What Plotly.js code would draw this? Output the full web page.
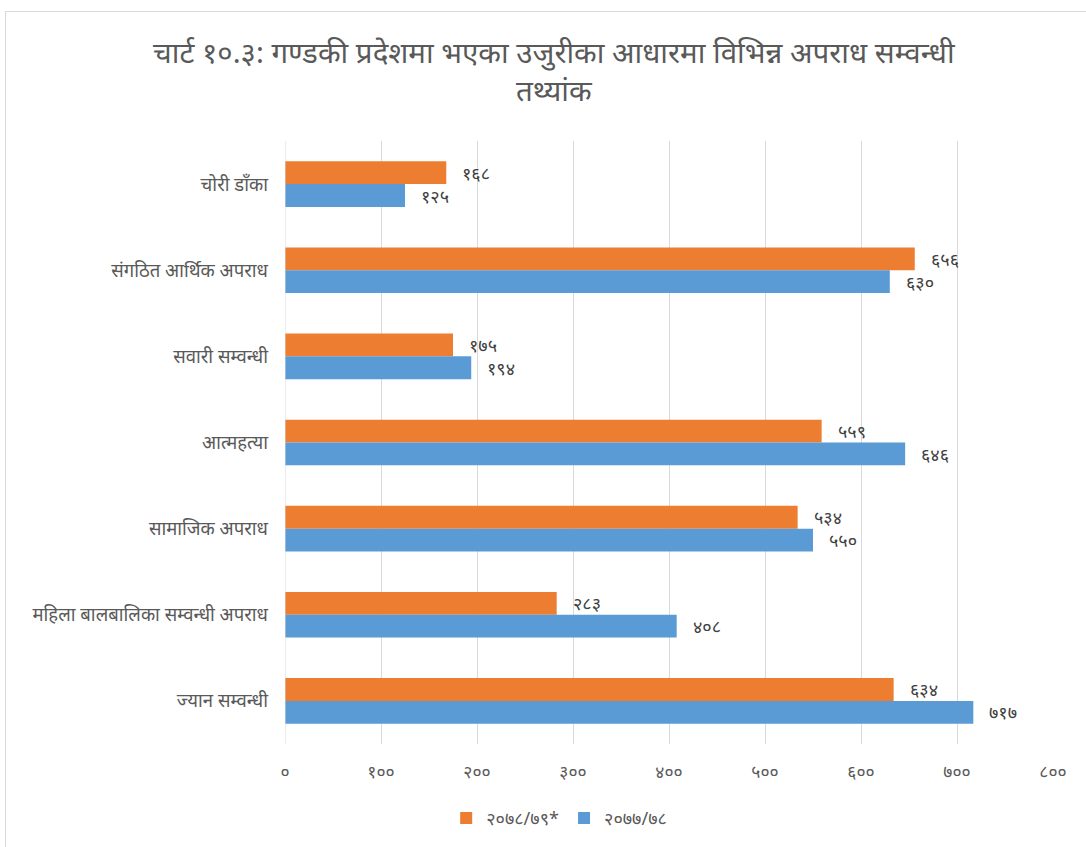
<!DOCTYPE html>
<html>
<head>
<meta charset="utf-8">
<script src="https://cdn.plot.ly/plotly-3.0.1.min.js"></script>
<style>
html,body{margin:0;padding:0;background:#fff;overflow:hidden;}
#frame{position:absolute;left:5px;top:11px;width:1200px;height:1000px;border:1px solid #d9d9d9;box-sizing:border-box;pointer-events:none;z-index:5;}
#chart{position:absolute;left:0;top:0;width:1086px;height:847px;}
</style>
</head>
<body>
<div id="chart"></div>
<div id="frame"></div>
<script>
const categories = ["चोरी डाँका","संगठित आर्थिक अपराध","सवारी सम्वन्धी","आत्महत्या","सामाजिक अपराध","महिला बालबालिका सम्वन्धी अपराध","ज्यान सम्वन्धी"];
const series1Name = "२०७८/७९*";
const series1 = [168, 656, 175, 559, 534, 283, 634];
const series2Name = "२०७७/७८";
const series2 = [125, 630, 194, 646, 550, 408, 717];
const tickVals = [0,100,200,300,400,500,600,700,800];

const devDigits = "०१२३४५६७८९";
function dev(n){ return String(n).replace(/[0-9]/g, d => devDigits[+d]); }
const tickText = tickVals.map(dev);

const font = "'Noto Sans', 'Noto Sans Devanagari', sans-serif";
const orange = "#ED7D31", blue = "#5B9BD5";

const traces = [
  {type:"bar", orientation:"h", name:series1Name, x:series1, y:categories, marker:{color:orange}, hoverinfo:"x+y"},
  {type:"bar", orientation:"h", name:series2Name, x:series2, y:categories, marker:{color:blue}, hoverinfo:"x+y"}
];

const annotations = [];
categories.forEach((c,i)=>{
  annotations.push({x:series1[i], y:c, text:dev(series1[i]), showarrow:false, xanchor:"left", xshift:14, yshift:11.5, font:{family:font,size:18,color:"#404040"}});
  annotations.push({x:series2[i], y:c, text:dev(series2[i]), showarrow:false, xanchor:"left", xshift:14, yshift:-11.5, font:{family:font,size:18,color:"#404040"}});
});

const layout = {
  width:1086, height:847,
  margin:{l:285, r:33, t:141, b:103},
  paper_bgcolor:"#fff", plot_bgcolor:"#fff",
  title:{text:"चार्ट १०.३: गण्डकी प्रदेशमा भएका उजुरीका आधारमा विभिन्न अपराध सम्वन्धी<br>तथ्यांक", x:0.51, xanchor:"center", y:0.926, yanchor:"top", font:{family:font,size:29.5,color:"#595959"}},
  barmode:"group", bargap:0.47, bargroupgap:0,
  xaxis:{range:[0,800], tickvals:tickVals, ticktext:tickText, showgrid:true, gridcolor:"#d9d9d9", gridwidth:1, zeroline:false, showline:false, ticks:"", tickfont:{family:font,size:17.5,color:"#595959"}, ticklabelstandoff:15, fixedrange:true},
  yaxis:{autorange:"reversed", showgrid:false, zeroline:false, showline:false, ticks:"", tickfont:{family:font,size:18.5,color:"#595959"}, ticklabelstandoff:16, fixedrange:true},
  legend:{orientation:"h", x:0.357, xanchor:"center", yref:"container", y:0.034, yanchor:"middle", font:{family:font,size:18,color:"#595959"}},
  annotations:annotations,
  shapes:[{type:"line", xref:"x", yref:"paper", x0:0, x1:0, y0:0, y1:1, line:{color:"#d9d9d9", width:1}}],
  showlegend:true
};
Plotly.newPlot("chart", traces, layout, {displayModeBar:false, staticPlot:true});
</script>
</body>
</html>
